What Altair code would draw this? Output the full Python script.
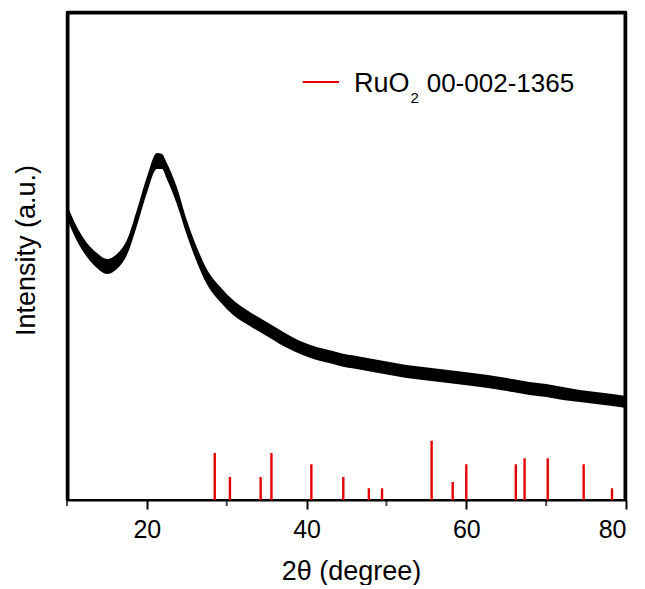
import altair as alt
import pandas as pd

FONT = "Liberation Sans"

# XRD trace: 2-theta and upper / lower envelope of the noisy band (a.u.)
two_theta = [10.0, 11.25, 12.5, 13.75, 15.0, 16.25, 17.5, 18.75, 20.0, 21.25, 21.9, 22.5,
             23.75, 25.0, 26.25, 27.5, 29.2, 30.8, 32.9, 35.0, 37.1, 39.2, 41.25, 43.3,
             44.2, 46.25, 48.3, 50.4, 52.5, 54.6, 56.7, 58.75, 60.8, 62.7, 65.8, 67.9,
             70.0, 72.1, 74.2, 76.25, 78.3, 80.0]
upper = [295, 273, 257, 247, 241, 246, 260, 290, 323, 347, 346, 337,
         313, 280, 253, 231, 213, 200, 188, 178, 168, 159, 153, 149,
         147, 144, 141, 138, 135, 133, 131, 129, 127, 125, 121, 118,
         116, 113, 110, 108, 106, 104]
lower = [281, 259, 243, 232, 226, 231, 245, 274, 307, 331, 331, 321,
         296, 265, 238, 216, 198, 185, 174, 164, 154, 146, 140, 136,
         134, 131, 128, 125, 122, 120, 118, 116, 114, 112, 108, 105,
         103, 100, 98, 96, 94, 92]

# Reference pattern RuO2 00-002-1365: positions and stick heights (a.u.)
ref_pos = [28.5, 30.4, 34.25, 35.6, 40.6, 44.6, 47.8, 49.45, 55.66, 58.3, 60.0,
           66.2, 67.3, 70.2, 74.7, 78.25]
ref_h = [47, 23, 23, 47, 35.7, 23, 11.7, 11.7, 59.3, 18, 35.7,
         35.7, 41.7, 41.7, 35.7, 11.7]

major_ticks = [20, 40, 60, 80]
minor_ticks = [10, 30, 50, 70]

# plot frame: top, left and right borders (in data units of the axes)
frame_x = [10, 10, 80]
frame_x2 = [80, 10, 80]
frame_y = [488, 488, 488]
frame_y2 = [488, 0, 0]

trace = pd.DataFrame({"x": two_theta, "up": upper, "lo": lower})
sticks = pd.DataFrame({"x": ref_pos, "h": ref_h, "base": [0] * len(ref_pos)})
minors = pd.DataFrame({"x": minor_ticks})
frame_df = pd.DataFrame({"x": frame_x, "x2": frame_x2, "y": frame_y, "y2": frame_y2})
one = pd.DataFrame({"a": [0]})

W, H = 559, 488

xscale = alt.Scale(domain=[10, 80], nice=False, zero=False)
yscale = alt.Scale(domain=[0, 488], nice=False, zero=False)

xaxis = alt.Axis(values=major_ticks, format="d", grid=False, tickSize=9, tickWidth=2,
                 tickColor="black", domainColor="black", domainWidth=2,
                 labelFont=FONT, labelFontSize=25, labelColor="black",
                 labelBaseline="alphabetic", labelPadding=28,
                 title="2θ (degree)", titleFont=FONT, titleFontSize=27,
                 titleFontWeight="normal", titleColor="black",
                 titleX=284, titleY=79, titleBaseline="alphabetic", titleAlign="center")
yaxis = alt.Axis(ticks=False, labels=False, domain=True, domainColor="black",
                 domainWidth=2, grid=False,
                 title="Intensity (a.u.)", titleFont=FONT, titleFontSize=27,
                 titleFontWeight="normal", titleColor="black", titleAngle=-90,
                 titleX=-33, titleY=238, titleBaseline="alphabetic", titleAlign="center")

X = alt.X("x:Q", scale=xscale, axis=xaxis)

band = alt.Chart(trace).mark_area(color="black", interpolate="monotone").encode(
    x=X,
    y=alt.Y("up:Q", scale=yscale, axis=yaxis),
    y2="lo:Q",
)

stick_layer = alt.Chart(sticks).mark_rule(color="#e60000", strokeWidth=2.4).encode(
    x=X,
    y=alt.Y("h:Q", scale=yscale, axis=yaxis),
    y2="base:Q",
)

frame_layer = alt.Chart(frame_df).mark_rule(color="black", strokeWidth=2.5).encode(
    x=X,
    x2="x2:Q",
    y=alt.Y("y:Q", scale=yscale, axis=yaxis),
    y2="y2:Q",
)

# inner copy of the frame, slightly inset
f_top = alt.Chart(one).mark_rule(color="black", strokeWidth=2).encode(
    x=alt.value(1), x2=alt.value(W - 1), y=alt.value(1.5))
f_left = alt.Chart(one).mark_rule(color="black", strokeWidth=2).encode(
    x=alt.value(1.5), y=alt.value(1), y2=alt.value(H))
f_right = alt.Chart(one).mark_rule(color="black", strokeWidth=2).encode(
    x=alt.value(W - 1.5), y=alt.value(1), y2=alt.value(H))

minor_layer = alt.Chart(minors).mark_tick(color="black", thickness=2, size=6,
                                          orient="vertical", yOffset=3).encode(
    x=X,
    y=alt.Y("base:Q", scale=yscale, axis=yaxis),
).transform_calculate(base="0")

leg_line = alt.Chart(one).mark_rule(color="#e60000", strokeWidth=2).encode(
    x=alt.value(235.7), x2=alt.value(272), y=alt.value(70)
)
leg_t1 = alt.Chart(one).mark_text(text="RuO", align="left", baseline="alphabetic",
                                  font=FONT, fontSize=27, color="black").encode(
    x=alt.value(287), y=alt.value(79.7))
leg_t2 = alt.Chart(one).mark_text(text="2", align="left", baseline="alphabetic",
                                  font=FONT, fontSize=15, color="black").encode(
    x=alt.value(343.5), y=alt.value(91.3))
leg_t3 = alt.Chart(one).mark_text(text="00-002-1365", align="left", baseline="alphabetic",
                                  font=FONT, fontSize=26, color="black").encode(
    x=alt.value(359.7), y=alt.value(79.7))

chart = alt.layer(band, stick_layer, frame_layer, f_top, f_left, f_right, minor_layer,
                  leg_line, leg_t1, leg_t2, leg_t3).properties(
    width=W, height=H,
    autosize=alt.AutoSizeParams(type="none"),
    padding={"left": 59, "top": 4, "right": 11, "bottom": 85},
).configure(
    font=FONT, background="white",
    view=alt.ViewConfig(stroke="black", strokeWidth=2),
)

chart.save("out.html", embed_options={"renderer": "svg", "actions": False})
